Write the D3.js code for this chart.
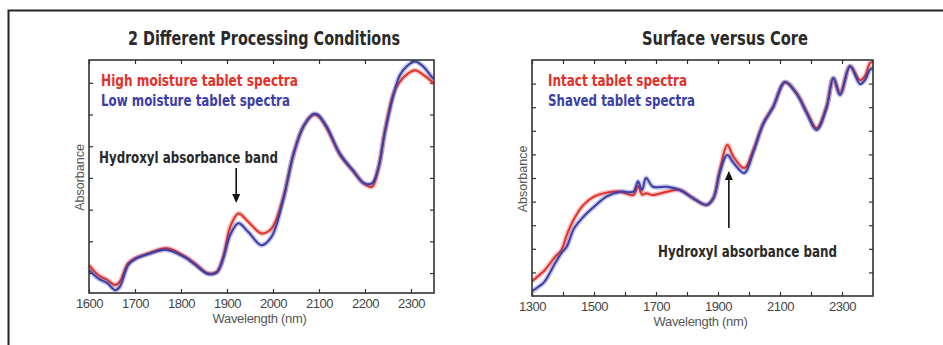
<!DOCTYPE html>
<html>
<head>
<meta charset="utf-8">
<script src="https://cdn.jsdelivr.net/npm/d3@7"></script>
<style>
  body { margin: 0; background: #fff; }
  svg { display: block; }
  .cond { font-family: "Liberation Sans Narrow", "DejaVu Sans Condensed", "Roboto Condensed", Arial, sans-serif; font-stretch: condensed; }
</style>
</head>
<body>
<div id="chart-area"></div>
<script>
// ---- data ----
var leftWavelengths = [1600,1620,1640,1657,1667,1685,1700,1729,1769,1809,1830,1859,1878,1892,1907,1925,1946,1975,1997,2022,
                       2044,2066,2088,2098,2117,2146,2175,2197,2215,2229,2243,2262,2276,2294,2309,2327,2345,2350];
var highMoisture = [0.325,0.294,0.278,0.262,0.273,0.331,0.346,0.362,0.378,0.352,0.331,0.299,0.304,0.352,0.446,0.488,0.462,0.425,0.441,0.536,
                    0.672,0.762,0.799,0.796,0.757,0.672,0.620,0.583,0.572,0.630,0.746,0.867,0.904,0.930,0.940,0.925,0.904,0.896];
var lowMoisture  = [0.310,0.283,0.268,0.246,0.257,0.325,0.344,0.360,0.373,0.349,0.327,0.297,0.302,0.347,0.420,0.457,0.430,0.388,0.415,0.530,
                    0.672,0.762,0.802,0.799,0.761,0.675,0.622,0.584,0.583,0.631,0.742,0.862,0.925,0.956,0.967,0.951,0.919,0.912];

var rightWavelengths = [1300,1320,1340,1375,1395,1412,1435,1466,1500,1540,1585,1627,1642,1655,1668,1690,1735,1777,1820,1863,
                        1885,1906,1930,1950,1985,2014,2046,2078,2116,2154,2186,2218,2250,2272,2294,2326,2358,2374,2390,2400];
var intactSpectra = [0.62,0.85,1.08,1.67,1.95,2.58,3.25,3.86,4.21,4.38,4.42,4.28,4.65,4.30,4.35,4.28,4.42,4.49,4.14,3.86,
                     4.14,5.34,6.40,5.90,5.42,6.19,7.32,8.02,9.05,8.59,7.81,7.12,8.02,9.22,8.59,9.72,9.15,9.32,9.87,9.93];
var shavedSpectra = [0.20,0.38,0.60,1.40,1.82,2.09,2.85,3.36,3.78,4.21,4.42,4.42,4.85,4.49,5.00,4.63,4.63,4.49,4.14,3.86,
                     4.14,5.25,5.97,5.64,5.21,6.10,7.29,8.01,9.07,8.56,7.75,7.03,7.97,9.24,8.52,9.75,8.98,9.15,9.58,9.66];

var leftXTicks = [1600,1700,1800,1900,2000,2100,2200,2300];
var leftYTicks = [0.3,0.4,0.5,0.6,0.7,0.8,0.9];
var rightXTicks = [1300,1400,1500,1600,1700,1800,1900,2000,2100,2200,2300];
var rightXLabels = [1300,1500,1700,1900,2100,2300];
var rightYTicks = [1,2,3,4,5,6,7,8,9];

var RED = "#e2302a", BLUE = "#3b3ea8";

var svg = d3.select("#chart-area").append("svg")
    .attr("width", 943).attr("height", 345);

// outer frame (top + left edges)
svg.append("path")
    .attr("d", "M8.5,345 L8.5,10.5 L943,10.5")
    .attr("fill", "none").attr("stroke", "#222").attr("stroke-width", 2);

function drawPanel(p) {
    var x = d3.scaleLinear().domain(p.xDomain).range([p.left, p.right]);
    var y = d3.scaleLinear().domain(p.yDomain).range([p.bottom, p.top]);
    var g = svg.append("g");

    g.append("clipPath").attr("id", p.id + "-clip")
      .append("rect").attr("x", p.left).attr("y", p.top)
        .attr("width", p.right - p.left).attr("height", p.bottom - p.top);

    // axes, inward ticks on all four sides
    g.append("g").attr("transform", "translate(0," + p.bottom + ")")
        .call(d3.axisBottom(x).tickValues(p.xTicks).tickSize(-4).tickPadding(6)
            .tickFormat(function(d){ return p.xLabels.indexOf(d) >= 0 ? d : ""; }));
    g.append("g").attr("transform", "translate(0," + p.top + ")")
        .call(d3.axisTop(x).tickValues(p.xTicks).tickSize(-4).tickFormat(""));
    g.append("g").attr("transform", "translate(" + p.left + ",0)")
        .call(d3.axisLeft(y).tickValues(p.yTicks).tickSize(-4).tickFormat(""));
    g.append("g").attr("transform", "translate(" + p.right + ",0)")
        .call(d3.axisRight(y).tickValues(p.yTicks).tickSize(-4).tickFormat(""));
    g.selectAll(".domain").remove();
    g.selectAll(".tick line").attr("stroke", "#333").attr("stroke-width", 1.2);
    g.selectAll(".tick text")
        .attr("font-family", "Liberation Sans, Arial, sans-serif")
        .attr("font-size", 13).attr("fill", "#444").attr("letter-spacing", -0.5);

    var line = d3.line()
        .x(function(d){ return x(d[0]); })
        .y(function(d){ return y(d[1]); })
        .curve(d3.curveCatmullRom.alpha(0.5));

    var lines = g.append("g").attr("clip-path", "url(#" + p.id + "-clip)");
    p.series.forEach(function(s){
        var pts = p.wl.map(function(w, i){ return [w, s.values[i]]; });
        // soft halo to suggest the bundle of overlaid spectra
        lines.append("path").attr("d", line(pts)).attr("fill", "none")
            .attr("stroke", s.color).attr("stroke-opacity", 0.3).attr("stroke-width", 5);
        lines.append("path").attr("d", line(pts)).attr("fill", "none")
            .attr("stroke", s.color).attr("stroke-width", 2);
    });

    g.append("rect")
        .attr("x", p.left).attr("y", p.top)
        .attr("width", p.right - p.left).attr("height", p.bottom - p.top)
        .attr("fill", "none").attr("stroke", "#333").attr("stroke-width", 1.6);

    // title
    g.append("text").attr("class", "cond")
        .attr("x", p.titleX).attr("y", 45).attr("text-anchor", "middle")
        .attr("font-size", 19).attr("font-weight", 600).attr("fill", "#2a2a2a")
        .attr("textLength", p.titleW).attr("lengthAdjust", "spacingAndGlyphs")
        .text(p.title);

    // legend
    p.series.forEach(function(s, i){
        g.append("text").attr("class", "cond")
            .attr("x", p.legendX).attr("y", 86 + i * 19.5)
            .attr("font-size", 15).attr("font-weight", "bold").attr("fill", s.color)
            .attr("textLength", s.labelW).attr("lengthAdjust", "spacingAndGlyphs")
            .text(s.label);
    });

    // axis labels
    g.append("text")
        .attr("x", (p.left + p.right) / 2 - 2).attr("y", p.bottom + 30)
        .attr("text-anchor", "middle").attr("font-family", "Liberation Sans, Arial, sans-serif")
        .attr("font-size", 13).attr("fill", "#555").attr("letter-spacing", -0.3)
        .text("Wavelength (nm)");
    g.append("text")
        .attr("transform", "translate(" + p.yLabelX + "," + ((p.top + p.bottom) / 2 + 1) + ") rotate(-90)")
        .attr("text-anchor", "middle").attr("font-family", "Liberation Sans, Arial, sans-serif")
        .attr("font-size", 12.5).attr("fill", "#555")
        .text("Absorbance");

    // annotation + arrow
    var ax = x(p.arrowAt);
    g.append("text").attr("class", "cond")
        .attr("x", p.noteX).attr("y", p.noteY)
        .attr("font-size", 16).attr("font-weight", 600).attr("fill", "#2a2a2a")
        .attr("textLength", 179).attr("lengthAdjust", "spacingAndGlyphs")
        .text("Hydroxyl absorbance band");
    g.append("line").attr("x1", ax).attr("x2", ax)
        .attr("y1", p.arrowFrom).attr("y2", p.arrowTo + (p.arrowTo > p.arrowFrom ? -5 : 5))
        .attr("stroke", "#111").attr("stroke-width", 1.6);
    var dir = p.arrowTo > p.arrowFrom ? -1 : 1;
    g.append("path")
        .attr("d", "M" + ax + "," + p.arrowTo + " L" + (ax - 4) + "," + (p.arrowTo + dir * 9) +
                   " L" + (ax + 4) + "," + (p.arrowTo + dir * 9) + " Z")
        .attr("fill", "#111");
}

drawPanel({
    id: "left", left: 89, right: 434, top: 60, bottom: 293,
    xDomain: [1600, 2350], yDomain: [0.237, 0.972],
    xTicks: leftXTicks, xLabels: leftXTicks, yTicks: leftYTicks,
    wl: leftWavelengths,
    series: [
        { values: highMoisture, color: RED,  label: "High moisture  tablet spectra", labelW: 197 },
        { values: lowMoisture,  color: BLUE, label: "Low moisture tablet spectra",   labelW: 189 }
    ],
    title: "2 Different Processing Conditions", titleX: 264, titleW: 272,
    legendX: 101, yLabelX: 84,
    noteX: 99, noteY: 163, arrowAt: 1920, arrowFrom: 168, arrowTo: 203
});

drawPanel({
    id: "right", left: 532, right: 873, top: 60, bottom: 296,
    xDomain: [1300, 2400], yDomain: [0, 10],
    xTicks: rightXTicks, xLabels: rightXLabels, yTicks: rightYTicks,
    wl: rightWavelengths,
    series: [
        { values: intactSpectra, color: RED,  label: "Intact tablet spectra", labelW: 139 },
        { values: shavedSpectra, color: BLUE, label: "Shaved tablet spectra", labelW: 147 }
    ],
    title: "Surface versus Core", titleX: 725, titleW: 166,
    legendX: 548, yLabelX: 527,
    noteX: 658, noteY: 257, arrowAt: 1935, arrowFrom: 228, arrowTo: 171
});
</script>
</body>
</html>
